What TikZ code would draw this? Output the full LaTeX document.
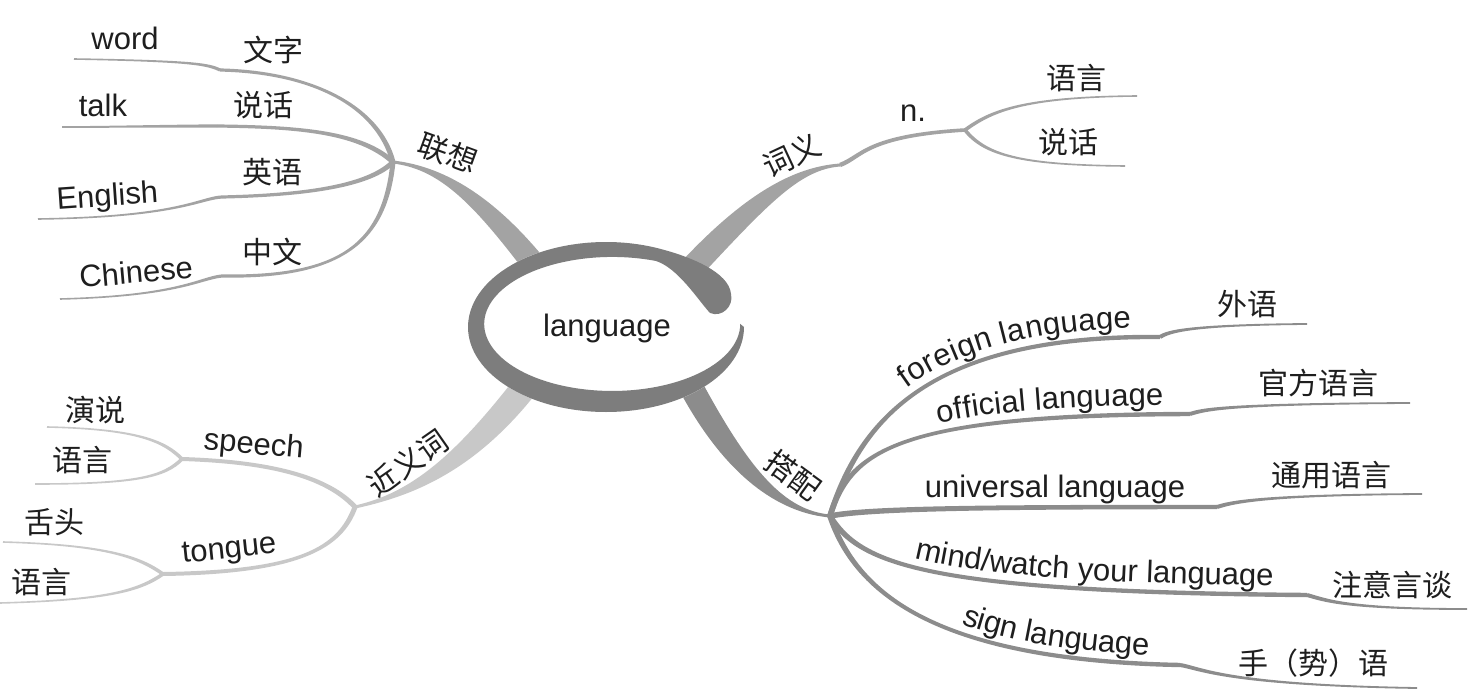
\documentclass[tikz,border=0pt]{standalone}
\usepackage{fontspec}
\setmainfont{Liberation Sans}
\newfontfamily\cjk{Noto Sans CJK SC}
\usetikzlibrary{calc,decorations.text}
\definecolor{txt}{RGB}{30,30,30}
\definecolor{ringc}{RGB}{125,125,125}
\definecolor{lxc}{RGB}{163,163,163}
\definecolor{cyc}{RGB}{163,163,163}
\definecolor{jyc}{RGB}{200,200,200}
\definecolor{dpc}{RGB}{140,140,140}
\newcommand\taper[7]{%
  \path ($(#2)!#6!90:(#3)$) coordinate (tA0)
        ($(#2)!#6!-90:(#3)$) coordinate (tB0)
        ($(#5)!#7!-90:(#4)$) coordinate (tA3)
        ($(#5)!#7!90:(#4)$) coordinate (tB3);
  \fill[#1] (tA0) .. controls ($(#3)+(tA0)-(#2)$) and ($(#4)+(tA3)-(#5)$) .. (tA3)
     -- (tB3) .. controls ($(#4)+(tB3)-(#5)$) and ($(#3)+(tB0)-(#2)$) .. (tB0) -- cycle;
}
\newcommand\enfs{\fontsize{31}{36}\selectfont}
\begin{document}
\begin{tikzpicture}[x=1pt,y=1pt,
  en/.style={font=\enfs,text=txt,inner sep=0pt},
  cn/.style={font=\cjk\fontsize{30}{34}\selectfont,text=txt,inner sep=0pt},
  curved/.style={decorate,decoration={text along path,text={|\enfs\color{txt}|#1},raise=9pt}}]
\useasboundingbox (0,0) rectangle (1481,-698);
% hubs and junctions
\coordinate (H1) at (393,-162);
\coordinate (H2) at (840,-165);
\coordinate (H2n) at (965,-130);
\coordinate (H3) at (355,-507);
\coordinate (H3s) at (182,-459);
\coordinate (H3t) at (163,-574);
\coordinate (H4) at (830,-516);
\coordinate (R1) at (550,-285);
\coordinate (R2) at (690,-270);
\coordinate (R3) at (530,-380);
\coordinate (R4) at (690,-385);
\coordinate (J1a) at (220,-70);  \coordinate (E1a) at (74,-59);
\coordinate (J1b) at (217,-126); \coordinate (E1b) at (62,-127);
\coordinate (J1c) at (222,-197); \coordinate (E1c) at (38,-219);
\coordinate (J1d) at (222,-276); \coordinate (E1d) at (60,-299);
\coordinate (E2a) at (1137,-96); \coordinate (E2b) at (1125,-166);
\coordinate (E3a) at (47,-427);  \coordinate (E3b) at (35,-484);
\coordinate (E3c) at (3,-542);   \coordinate (E3d) at (0,-603);
\coordinate (J4a) at (1160,-337); \coordinate (E4a) at (1307,-324);
\coordinate (J4b) at (1190,-414); \coordinate (E4b) at (1410,-403);
\coordinate (J4c) at (1217,-507); \coordinate (E4c) at (1422,-494);
\coordinate (J4d) at (1307,-595); \coordinate (E4d) at (1467,-609);
\coordinate (J4e) at (1180,-665); \coordinate (E4e) at (1417,-688);
% 联想
\taper{lxc}{H1}{378,-105}{310,-72}{J1a}{2.5pt}{1.6pt}
\taper{lxc}{J1a}{208,-64}{190,-61}{E1a}{1.6pt}{0.8pt}
\taper{lxc}{H1}{360,-132}{300,-127}{J1b}{2.5pt}{1.6pt}
\taper{lxc}{J1b}{180,-126}{100,-127}{E1b}{1.6pt}{0.8pt}
\taper{lxc}{H1}{370,-185}{310,-195}{J1c}{2.5pt}{1.6pt}
\taper{lxc}{J1c}{200,-198}{180,-217}{E1c}{1.6pt}{0.8pt}
\taper{lxc}{H1}{385,-240}{345,-278}{J1d}{2.5pt}{1.6pt}
\taper{lxc}{J1d}{200,-278}{180,-296}{E1d}{1.6pt}{0.8pt}
\taper{lxc}{H1}{445,-168}{490,-205}{R1}{1.5pt}{12pt}
% 词义
\taper{cyc}{H2}{800,-168}{760,-195}{R2}{1.5pt}{12pt}
\taper{cyc}{H2}{862,-157}{865,-136}{H2n}{2.2pt}{1.8pt}
\taper{cyc}{H2n}{990,-112}{1020,-97}{E2a}{1.8pt}{0.8pt}
\taper{cyc}{H2n}{985,-155}{1020,-165}{E2b}{1.8pt}{0.8pt}
% 近义词
\taper{jyc}{H3}{410,-495}{465,-465}{R3}{1.5pt}{13pt}
\taper{jyc}{H3}{330,-480}{280,-462}{H3s}{2.5pt}{2pt}
\taper{jyc}{H3s}{165,-442}{140,-429}{E3a}{1.8pt}{0.8pt}
\taper{jyc}{H3s}{165,-476}{140,-484}{E3b}{1.8pt}{0.8pt}
\taper{jyc}{H3}{340,-548}{300,-572}{H3t}{2.5pt}{2pt}
\taper{jyc}{H3t}{140,-558}{110,-545}{E3c}{1.8pt}{0.8pt}
\taper{jyc}{H3t}{140,-590}{110,-600}{E3d}{1.8pt}{0.8pt}
% 搭配
\taper{dpc}{H4}{785,-512}{740,-478}{R4}{1.5pt}{12pt}
\taper{dpc}{H4}{860,-420}{930,-335}{J4a}{2.8pt}{2.2pt}
\taper{dpc}{J4a}{1168,-332}{1185,-325}{E4a}{2pt}{0.9pt}
\taper{dpc}{H4}{850,-450}{900,-415}{J4b}{2.8pt}{2.2pt}
\taper{dpc}{J4b}{1203,-410}{1220,-404}{E4b}{2pt}{0.9pt}
\taper{dpc}{H4}{870,-508}{1000,-507}{J4c}{2.8pt}{2.2pt}
\taper{dpc}{J4c}{1230,-503}{1255,-495}{E4c}{2pt}{0.9pt}
\taper{dpc}{H4}{860,-565}{930,-592}{J4d}{2.8pt}{2.2pt}
\taper{dpc}{J4d}{1325,-600}{1345,-609}{E4d}{2pt}{0.9pt}
\taper{dpc}{H4}{855,-590}{930,-660}{J4e}{2.8pt}{2.2pt}
\taper{dpc}{J4e}{1200,-668}{1225,-685}{E4e}{2pt}{0.9pt}
% central ring
\fill[white] (606,-327) ellipse [x radius=138pt, y radius=85pt];
\fill[ringc] (744,-327) arc[start angle=0, end angle=-295, x radius=138pt, y radius=85pt]
  .. controls (690,-257) and (729,-272) .. (731,-294)
  .. controls (734,-306) and (722,-318) .. (710,-313)
  .. controls (698,-300) and (678,-268) .. (656,-261)
  arc[start angle=70, end angle=360, x radius=128pt, y radius=67pt] -- cycle;
\node[en,anchor=base] (center) at (607,-336) {language};
% 联想 texts
\node[cn,rotate=-20] (lx) at (448,-153) {联想};
\node[cn] (wz) at (273,-50) {文字};
\node[en,anchor=base] (word) at (125,-50) {word};
\node[cn] (sh1) at (263,-105) {说话};
\node[en,anchor=base] (talk) at (103,-117) {talk};
\node[cn] (yy) at (272,-172) {英语};
\node[en,anchor=base,rotate=4] (eng) at (108,-206) {English};
\node[cn] (zw) at (272,-252) {中文};
\node[en,anchor=base,rotate=5] (chi) at (137,-283) {Chinese};
% 词义 texts
\node[cn,rotate=25] (cy) at (792,-155) {词义};
\node[en,anchor=base] (n) at (913,-122) {n.};
\node[cn] (yy2) at (1076,-78) {语言};
\node[cn] (sh2) at (1068,-142) {说话};
% 近义词 texts
\node[cn,rotate=35] (jy) at (408,-463) {近义词};
\node[en,anchor=base,rotate=-5] (sp) at (253,-454) {speech};
\node[en,anchor=base,rotate=6] (tg) at (230,-558) {tongue};
\node[cn] (ys) at (95,-410) {演说};
\node[cn] (yy3) at (82,-460) {语言};
\node[cn] (st) at (54,-522) {舌头};
\node[cn] (yy4) at (42,-582) {语言};
% 搭配 texts
\node[cn,rotate=-36] (dp) at (793,-475) {搭配};
\path[curved={foreign language},decoration={text align={left indent=148pt}}] (H4) .. controls (860,-420) and (930,-335) .. (J4a);
\path[curved={official language},decoration={text align={left indent=147pt}}] (H4) .. controls (850,-450) and (900,-415) .. (J4b);
\node[en,anchor=base] (ul) at (1055,-497) {universal language};
\path[curved={mind/watch your language},decoration={text align={left indent=100pt}}] (H4) .. controls (860,-565) and (930,-592) .. (J4d);
\path[curved={sign language},decoration={text align={left indent=180pt}}] (H4) .. controls (855,-590) and (930,-660) .. (J4e);
\node[cn] (wy) at (1247,-304) {外语};
\node[cn] (gf) at (1318,-383) {官方语言};
\node[cn] (ty) at (1331,-475) {通用语言};
\node[cn] (zy) at (1392,-585) {注意言谈};
\node[cn] (ss) at (1313,-663) {手（势）语};
\end{tikzpicture}
\end{document}
